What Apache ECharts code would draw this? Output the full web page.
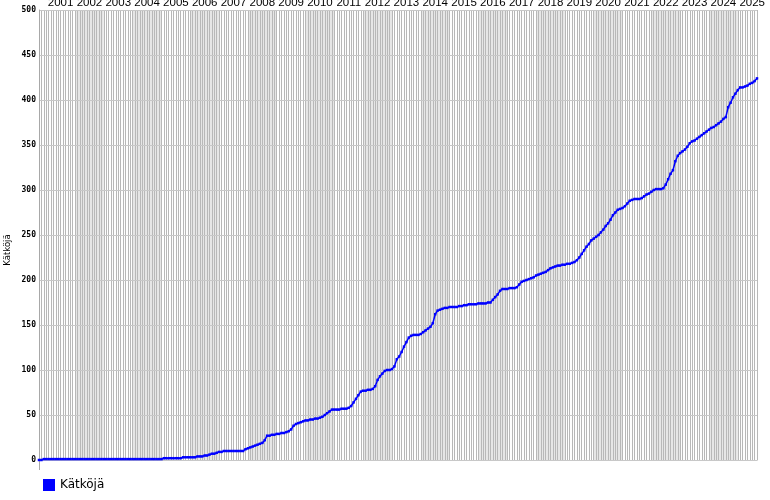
<!DOCTYPE html>
<html>
<head>
<meta charset="utf-8">
<script src="https://cdn.jsdelivr.net/npm/echarts@6/dist/echarts.min.js"></script>
<style>html,body{margin:0;padding:0;background:#fff}#c{width:770px;height:500px}</style>
</head>
<body>
<div id="c"></div>
<script>
// First month of the series (Oct 2000), monthly cumulative values
var startYear = 2000, startMonth = 10;
var seriesName = 'Kätköjä';
var yTicks = [0, 50, 100, 150, 200, 250, 300, 350, 400, 450, 500];
var v2000 = [0, 0, 1];
var v2001 = [1, 1, 1, 1, 1, 1, 1, 1, 1, 1, 1, 1];
var v2002 = [1, 1, 1, 1, 1, 1, 1, 1, 1, 1, 1, 1];
var v2003 = [1, 1, 1, 1, 1, 1, 1, 1, 1, 1, 1, 1];
var v2004 = [1, 1, 1, 1, 1, 1, 1, 1, 1, 1, 1, 1];
var v2005 = [1, 2, 2, 2, 2, 2, 2, 2, 2, 3, 3, 3];
var v2006 = [3, 3, 3, 4, 4, 4, 5, 5, 6, 7, 7, 8];
var v2007 = [9, 9, 10, 10, 10, 10, 10, 10, 10, 10, 10, 12];
var v2008 = [13, 14, 15, 16, 17, 18, 19, 22, 27, 27, 28, 28];
var v2009 = [29, 29, 30, 30, 31, 32, 34, 38, 40, 41, 42, 43];
var v2010 = [44, 44, 45, 45, 46, 46, 47, 48, 50, 52, 54, 56];
var v2011 = [56, 56, 56, 57, 57, 57, 58, 60, 64, 68, 72, 76];
var v2012 = [77, 77, 78, 78, 79, 82, 89, 93, 96, 99, 100, 100];
var v2013 = [101, 104, 112, 115, 120, 126, 131, 136, 138, 139, 139, 139];
var v2014 = [140, 142, 144, 146, 148, 152, 162, 166, 167, 168, 169, 169];
var v2015 = [170, 170, 170, 170, 171, 171, 172, 172, 173, 173, 173, 173];
var v2016 = [174, 174, 174, 174, 175, 175, 178, 181, 184, 188, 190, 190];
var v2017 = [190, 191, 191, 191, 192, 195, 198, 199, 200, 201, 202, 203];
var v2018 = [205, 206, 207, 208, 209, 211, 213, 214, 215, 216, 216, 217];
var v2019 = [217, 218, 218, 219, 220, 222, 225, 229, 233, 237, 240, 244];
var v2020 = [246, 248, 250, 253, 256, 260, 263, 267, 272, 275, 278, 279];
var v2021 = [280, 282, 285, 288, 289, 290, 290, 290, 291, 293, 295, 296];
var v2022 = [298, 300, 301, 301, 301, 302, 306, 312, 318, 322, 332, 338];
var v2023 = [341, 343, 345, 348, 352, 354, 355, 357, 359, 361, 363, 365];
var v2024 = [367, 369, 370, 372, 374, 376, 379, 381, 392, 397, 403, 407];
var v2025 = [411, 414, 414, 415, 416, 418, 419, 421, 424];

var values = [].concat(v2000, v2001, v2002, v2003, v2004, v2005, v2006, v2007, v2008,
  v2009, v2010, v2011, v2012, v2013, v2014, v2015, v2016, v2017, v2018, v2019, v2020,
  v2021, v2022, v2023, v2024, v2025);

var months = [];
(function () {
  var y = startYear, m = startMonth;
  for (var i = 0; i < values.length; i++) {
    months.push(y + '-' + (m < 10 ? '0' + m : m));
    m++; if (m > 12) { m = 1; y++; }
  }
})();
function monthOf(i) { return parseInt(months[i].slice(5), 10); }

var chart = echarts.init(document.getElementById('c'), null, {renderer: 'canvas'});
chart.setOption({
  animation: false,
  backgroundColor: '#fff',
  grid: {left: 39, right: 13, top: 10, bottom: 40, containLabel: false, outerBoundsMode: 'none'},
  legend: {
    left: 38, top: 474, itemWidth: 12, itemHeight: 12, itemGap: 10,
    icon: 'rect',
    textStyle: {fontFamily: 'DejaVu Sans', fontSize: 12, color: '#000'},
    data: [seriesName]
  },
  xAxis: [{
    type: 'category', position: 'top', boundaryGap: false, data: months,
    axisLine: {show: false}, axisTick: {show: false},
    axisLabel: {
      interval: function (i) { return monthOf(i) === 7; },
      formatter: function (v) { return v.slice(0, 4); },
      fontFamily: 'Liberation Sans', fontSize: 11.5, color: '#000', margin: 1
    },
    splitLine: {show: true, interval: 0, lineStyle: {color: '#b8b8b8', width: 1}},
    splitArea: {show: true, interval: function (i) { return monthOf(i) === 1; },
      areaStyle: {color: ['#ffffff', '#e6e6e6']}}
  }, {
    type: 'category', position: 'bottom', boundaryGap: false, data: months,
    axisLine: {show: true, lineStyle: {color: '#a8a8a8'}},
    axisTick: {show: true, interval: function (i) { return i === 0; }, length: 10, lineStyle: {color: '#a8a8a8'}},
    axisLabel: {show: false}, splitLine: {show: false}
  }],
  yAxis: {
    type: 'value', min: yTicks[0], max: yTicks[yTicks.length - 1], interval: 50,
    name: seriesName, nameLocation: 'middle', nameGap: 27, nameMoveOverlap: false,
    nameTextStyle: {fontFamily: 'DejaVu Sans', fontSize: 8.5, color: '#000', padding: [0, 30, 0, 0]},
    axisLine: {show: true, lineStyle: {color: '#a8a8a8'}},
    axisTick: {show: false},
    axisLabel: {fontFamily: 'DejaVu Sans Mono', fontWeight: 'bold', fontSize: 8, color: '#000', margin: 3},
    splitLine: {show: true, lineStyle: {color: '#c8c8c8', width: 1}},
    z: 3
  },
  series: [{
    name: seriesName, type: 'line', data: values, xAxisIndex: 0,
    showSymbol: true, showAllSymbol: true, symbol: 'rect', symbolSize: 2.5,
    itemStyle: {color: '#0000ff'},
    lineStyle: {color: '#0000ff', width: 1.5}
  }]
});
</script>
</body>
</html>
